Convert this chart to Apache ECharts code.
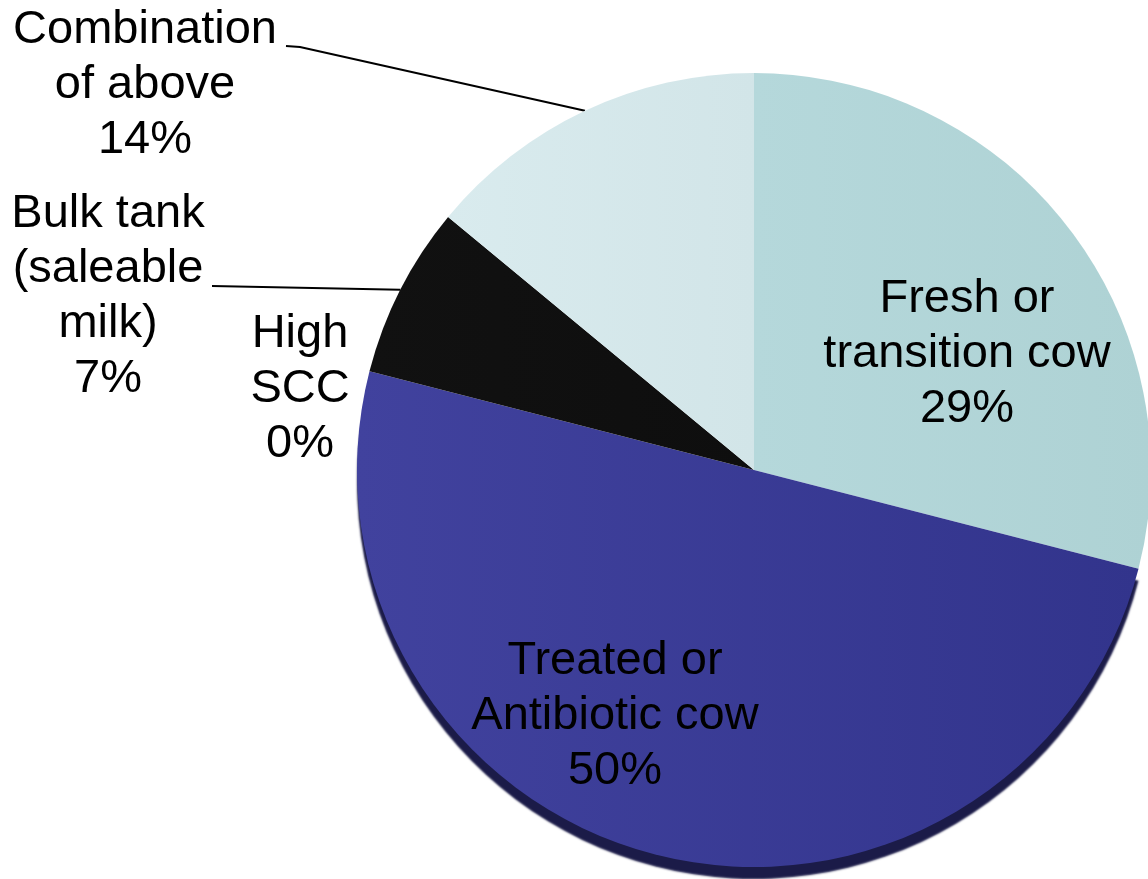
<!DOCTYPE html>
<html>
<head>
<meta charset="utf-8">
<style>
html,body{margin:0;padding:0;background:#fff;}
#chart{width:1148px;height:879px;}
</style>
<script src="https://cdn.jsdelivr.net/npm/echarts@6/dist/echarts.min.js"></script>
</head>
<body>
<div id="chart"></div>
<script>
const categories = ['Fresh or\ntransition cow', 'Treated or\nAntibiotic cow', 'High\nSCC', 'Bulk tank\n(saleable\nmilk)', 'Combination\nof above'];
const values = [29, 50, 0, 7, 14];

const sliceColors = [
  ['#b5d8db', '#aed2d4'],
  ['#41429e', '#32348c'],
  ['#111111', '#111111'],
  ['#111111', '#0e0e0e'],
  ['#d9ebee', '#d2e5e8']
];
const labelCenters = [[967, 354], [615, 716], [300, 389], [108, 297], [145, 85]];
const leaderEnds = [null, null, null, [[212, 286]], [[300, 47], [286, 46]]];
const showLeader = [false, false, false, true, true];

const chart = echarts.init(document.getElementById('chart'), null, {renderer: 'canvas'});

const data = categories.map((name, i) => ({
  name: name,
  value: values[i],
  itemStyle: Object.assign({
    color: new echarts.graphic.LinearGradient(0, 0, 1, 0, [
      {offset: 0, color: sliceColors[i][0]},
      {offset: 1, color: sliceColors[i][1]}
    ])
  }, i === 1 ? {shadowColor: '#1b1b48', shadowOffsetY: 12, shadowOffsetX: 0, shadowBlur: 2} : {}),
  labelLine: {show: showLeader[i]}
}));

chart.setOption({
  animation: false,
  series: [{
    type: 'pie',
    center: [754, 470],
    radius: 397,
    startAngle: 90,
    clockwise: true,
    avoidLabelOverlap: false,
    minShowLabelAngle: 0,
    data: data,
    label: {
      show: true,
      position: 'outside',
      formatter: '{b}\n{d}%',
      fontFamily: '"Liberation Sans", Arial, sans-serif',
      fontSize: 47,
      lineHeight: 55,
      color: '#000',
      align: 'center'
    },
    labelLine: {
      show: false,
      lineStyle: {color: '#000', width: 2}
    },
    emphasis: {disabled: true},
    labelLayout: function (params) {
      const i = params.dataIndex;
      const c = labelCenters[i];
      const res = {x: c[0], y: c[1], align: 'center', verticalAlign: 'middle'};
      if (leaderEnds[i] && params.labelLinePoints) {
        res.labelLinePoints = [params.labelLinePoints[0]].concat(leaderEnds[i]);
      }
      return res;
    }
  }]
});
</script>
</body>
</html>
